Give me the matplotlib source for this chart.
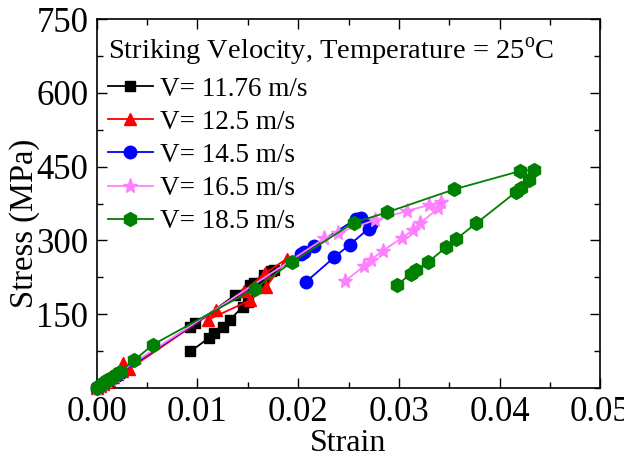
import matplotlib
matplotlib.use("Agg")
import matplotlib.pyplot as plt
from matplotlib.ticker import MultipleLocator

plt.rcParams['font.family'] = ['Liberation Serif', 'DejaVu Serif']
plt.rcParams['mathtext.fontset'] = 'custom'
plt.rcParams['mathtext.rm'] = 'Liberation Serif'

# Stress-strain data for each striking velocity (strain, stress in MPa)
strain_1176 = [0.0, 0.0003, 0.0006, 0.0009, 0.0012, 0.0015, 0.0018, 0.0022,
               0.0093, 0.0098, 0.0137, 0.0152, 0.0156, 0.0166, 0.0173, 0.0176,
               0.0165, 0.0150, 0.0145, 0.0132, 0.0125, 0.0116, 0.0111, 0.0093]
stress_1176 = [0, 4, 8, 12, 16, 20, 25, 30,
               124, 131, 188, 210, 214, 230, 238, 240,
               215, 175, 165, 138, 123, 111, 101, 74]

strain_125 = [0.0, 0.0003, 0.0006, 0.0009, 0.0012, 0.0016, 0.0020, 0.0025,
              0.0026, 0.0032, 0.0118, 0.0146, 0.0167, 0.0189,
              0.0168, 0.0152, 0.0110]
stress_125 = [0, 4, 8, 12, 17, 22, 28, 35,
              50, 38, 158, 197, 233, 263,
              205, 178, 138]

strain_145 = [0.0, 0.0003, 0.0006, 0.0010, 0.0014, 0.0018, 0.0022,
              0.0203, 0.0206, 0.0216, 0.0257, 0.0262, 0.0272, 0.0270,
              0.0251, 0.0236, 0.0208]
stress_145 = [0, 4, 8, 13, 18, 24, 29,
              273, 276, 289, 343, 346, 333, 324,
              291, 266, 216]

strain_165 = [0.0, 0.0003, 0.0006, 0.0010, 0.0014, 0.0018, 0.0022,
              0.0226, 0.0240, 0.0276, 0.0308, 0.0330, 0.0342,
              0.0339, 0.0321, 0.0314, 0.0303, 0.0284, 0.0272, 0.0265, 0.0247]
stress_165 = [0, 4, 8, 14, 19, 25, 31,
              304, 316, 341, 360, 372, 379,
              365, 335, 321, 305, 279, 260, 247, 218]

strain_185 = [0.0, 0.0002, 0.0004, 0.0006, 0.0008, 0.0010, 0.0013, 0.0016,
              0.0020, 0.0023, 0.0037, 0.0056, 0.0157, 0.0194, 0.0255, 0.0288,
              0.0355, 0.0420, 0.0434, 0.0429, 0.0421, 0.0416, 0.0377, 0.0357,
              0.0347, 0.0329, 0.0317, 0.0312, 0.0298]
stress_185 = [0, 3, 6, 9, 12, 15, 19, 23,
              28, 32, 56, 88, 202, 256, 336, 357,
              404, 441, 444, 423, 407, 398, 335, 303,
              286, 256, 240, 232, 209]

series = [
    ("V= 11.76 m/s", strain_1176, stress_1176, "black", "s", 7),
    ("V= 12.5 m/s", strain_125, stress_125, "#ff0000", "^", 9),
    ("V= 14.5 m/s", strain_145, stress_145, "#0000ff", "o", 9),
    ("V= 16.5 m/s", strain_165, stress_165, "#ff80ff", "*", 11),
    ("V= 18.5 m/s", strain_185, stress_185, "#008000", "h", 10),
]

fig = plt.figure(figsize=(6.24, 4.59), dpi=100)
ax = fig.add_axes([0.155, 0.155, 0.807, 0.803])

for label, xs, ys, color, marker, ms in series:
    ax.plot(xs, ys, color=color, marker=marker, markersize=ms, lw=1.3,
            label=label, clip_on=False, zorder=3)

ax.set_xlim(0, 0.05)
ax.set_ylim(0, 750)
ax.xaxis.set_major_locator(MultipleLocator(0.01))
ax.xaxis.set_minor_locator(MultipleLocator(0.005))
ax.yaxis.set_major_locator(MultipleLocator(150))
ax.yaxis.set_minor_locator(MultipleLocator(75))
ax.set_yticks([150, 300, 450, 600, 750])
ax.xaxis.set_major_formatter(plt.FuncFormatter(lambda v, p: f"{v:.2f}"))

ax.tick_params(which='both', direction='in', top=True, right=True,
               labelsize=25, width=1.0, pad=6)
ax.tick_params(which='major', length=7)
ax.tick_params(which='minor', length=4)
for sp in ax.spines.values():
    sp.set_linewidth(1.2)

ax.set_xlabel("Strain", fontsize=23, labelpad=0)
ax.set_ylabel("Stress (MPa)", fontsize=23.5)
ax.yaxis.set_label_coords(-0.113, 0.446)

leg = ax.legend(title="Striking Velocity, Temperature = 25$^{\\mathrm{o}}$C",
                loc='upper left', bbox_to_anchor=(-0.016, 1.005), frameon=False,
                fontsize=19.5, title_fontsize=20.5, handlelength=1.67,
                handletextpad=0.26, labelspacing=0.3, borderaxespad=0.3,
                alignment='left')

fig.savefig("out.png", dpi=100)
